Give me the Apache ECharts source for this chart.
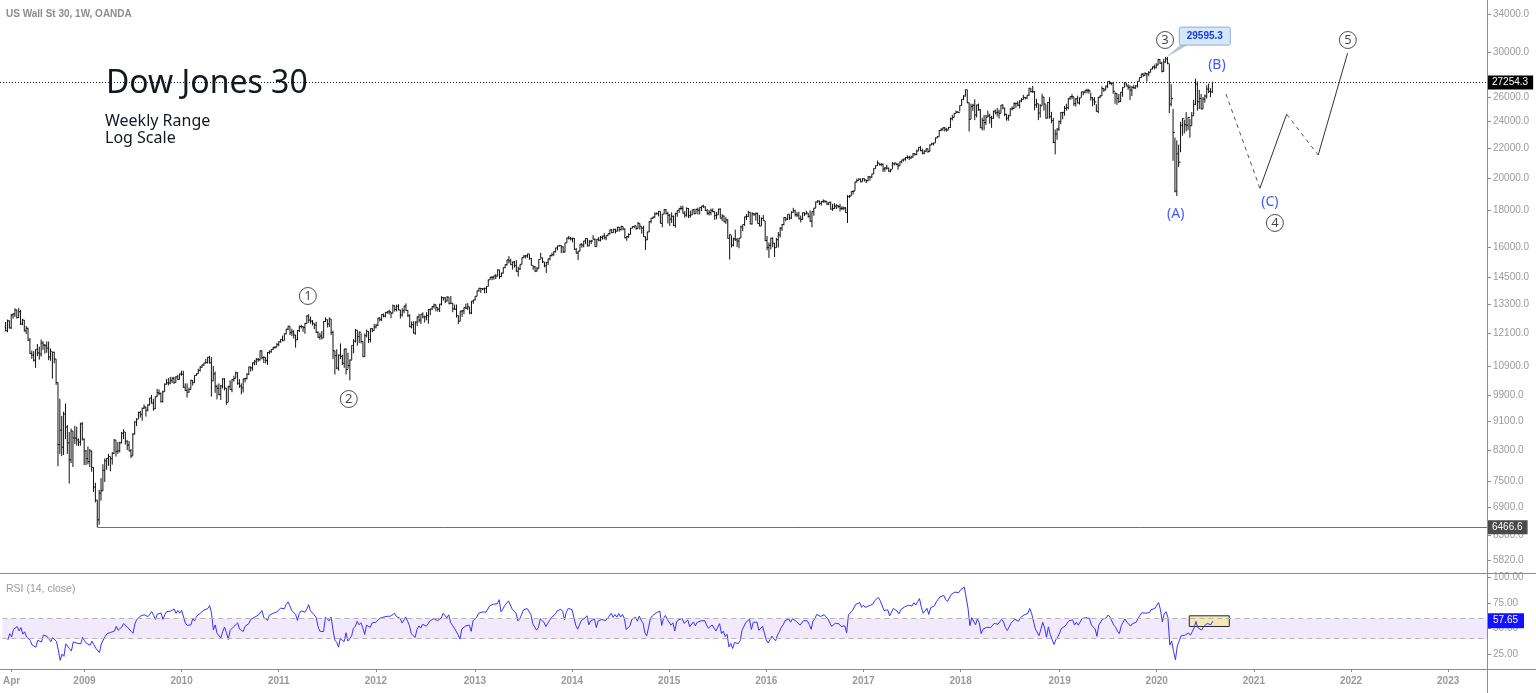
<!DOCTYPE html>
<html><head><meta charset="utf-8">
<script src="https://cdn.jsdelivr.net/npm/echarts@6/dist/echarts.min.js"></script>
<style>html,body{margin:0;padding:0;background:#fff}#c{width:1536px;height:693px}</style>
</head><body><div id="c"></div><script>
// ---------------- DATA ----------------
const startWeek = '2008-03-24'; // Monday of the first weekly bar shown
// weekly closes before the first visible bar (Oct 2007 - Mar 2008), used only to warm up RSI(14)
const warmupCloses = [14066,14093,13522,13806,13595,13043,13176,12981,13372,13625,13339,13450,13366,12800,12606,12099,12207,12743,12182,12348,12381,12266,11894,11951,12361];
// weekly bars: [high, low, close]
const weekly2008 = [[12560,12180,12216],[12660,12150,12609],[12630,12300,12325],[12880,12280,12849],[12920,12700,12891],[13130,12770,13058],[13070,12700,12745],[13140,12730,12986],[13060,12440,12480],[12690,12430,12638],[12640,12180,12209],[12400,12080,12307],[12330,11820,11843],[11930,11330,11346],[11450,11150,11288],[11430,11050,11100],[11500,10830,11496],[11700,11250,11370],[11600,11120,11326],[11870,11230,11734],[11800,11480,11659],[11700,11340,11628],[11800,11370,11543],[11790,11100,11220],[11530,11080,11421],[11400,10460,11388],[11410,10990,11143],[11140,10250,10325],[10330,7880,8451],[9800,8200,8852],[9270,8140,8378],[9400,8170,9325],[9650,8600,8943],[9000,8200,8497],[8800,7450,8046],[8900,7960,8829],[8830,7860,8635],[8980,8470,8629],[8950,8420,8579],[8620,8410,8515],[9070,8420,9034]];
const weekly2009 = [[9090,8560,8599],[8620,7910,8281],[8300,7910,8077],[8400,7930,8000],[8330,7860,8280],[8280,7740,7850],[7850,7250,7365],[7470,7010,7062],[7060,6470,6627],[7300,6520,7224],[7580,7050,7278],[7930,7270,7776],[8080,7490,8018],[8090,7790,8083],[8200,7890,8131],[8130,7750,8076],[8250,7920,8212],[8600,8200,8575],[8570,8130,8268],[8520,8200,8277],[8530,8240,8500],[8800,8480,8764],[8880,8600,8799],[8800,8450,8539],[8570,8300,8438],[8550,8270,8280],[8330,8090,8146],[8770,8150,8743],[9110,8730,9093],[9200,8970,9171],[9400,9180,9370],[9420,9220,9321],[9520,9130,9505],[9620,9480,9544],[9550,9250,9441],[9630,9410,9605],[9830,9590,9820],[9920,9650,9665],[9800,9430,9487],[9880,9480,9864],[10120,9860,9995],[10100,9910,9972],[10000,9680,9712],[10060,9680,10023],[10300,10020,10270],[10440,10260,10318],[10480,10230,10309],[10520,10270,10388],[10510,10310,10471],[10520,10280,10329],[10540,10320,10520],[10590,10420,10428]];
const weekly2010 = [[10630,10430,10618],[10730,10560,10610],[10730,10150,10173],[10300,10050,10067],[10300,9840,10012],[10160,9990,10099],[10420,10100,10402],[10410,10230,10325],[10570,10320,10566],[10640,10550,10625],[10800,10620,10742],[10900,10700,10851],[10950,10830,10927],[11010,10900,10998],[11150,10980,11019],[11220,10980,11204],[11260,10980,11009],[11210,9870,10380],[10900,10380,10620],[10700,9990,10193],[10260,9780,10137],[10300,9910,9932],[10250,9760,10212],[10470,10130,10450],[10470,10070,10144],[10150,9610,9686],[10220,9700,10198],[10400,10090,10098],[10440,10010,10424],[10560,10360,10466],[10700,10470,10654],[10680,10250,10303],[10440,10150,10213],[10300,9940,10150],[10460,10000,10448],[10490,10330,10462],[10640,10430,10607],[10870,10580,10860],[10880,10700,10829],[11020,10730,11006],[11100,10920,11063],[11180,10930,11133],[11180,11040,11118],[11450,11080,11444],[11450,11130,11193],[11240,11000,11204],[11200,10990,11092],[11400,10930,11382],[11460,11320,11410],[11500,11370,11492],[11590,11470,11573],[11610,11520,11578]];
const weekly2011 = [[11740,11580,11675],[11800,11620,11787],[11880,11740,11872],[12020,11800,11824],[12100,11830,12092],[12280,12070,12273],[12400,12230,12391],[12390,12040,12130],[12290,12000,12170],[12230,11900,12044],[12050,11560,11859],[12240,11850,12221],[12420,12160,12377],[12450,12300,12380],[12390,12170,12342],[12520,12090,12505],[12830,12480,12811],[12880,12530,12638],[12780,12490,12596],[12640,12420,12512],[12510,12270,12441],[12570,12120,12151],[12190,11930,11952],[12130,11860,12004],[12200,11870,11934],[12600,11940,12582],[12750,12560,12657],[12660,12340,12479],[12750,12350,12681],[12680,12040,12143],[12210,11140,11445],[11450,10600,11269],[11500,10780,10818],[11310,10730,11285],[11720,11140,11240],[11300,10930,10992],[11520,10830,11509],[11530,10600,10771],[11370,10800,10913],[11130,10400,11103],[11650,11100,11644],[11880,11350,11809],[12280,11750,12231],[12230,11640,11983],[12180,11730,12153],[12110,11720,11796],[11800,11210,11231],[12100,11230,12019],[12260,11950,12184],[12190,11740,11866],[12300,11760,12294],[12320,12150,12218]];
const weekly2012 = [[12480,12220,12360],[12490,12300,12422],[12730,12400,12720],[12760,12580,12660],[12880,12600,12862],[12910,12750,12801],[12960,12750,12950],[13010,12900,12983],[13060,12870,12978],[12980,12720,12922],[13290,12920,13233],[13250,12990,13081],[13290,13000,13212],[13300,13040,13060],[13060,12700,12850],[13130,12780,13029],[13240,12920,13228],[13340,13020,13038],[13050,12760,12821],[12880,12350,12369],[12580,12300,12454],[12590,12100,12119],[12590,12050,12554],[12790,12400,12767],[12900,12540,12640],[12890,12480,12880],[12960,12710,12772],[12820,12540,12777],[12960,12630,12822],[13100,12490,13075],[13110,12840,13096],[13220,13060,13207],[13330,13120,13275],[13290,13000,13157],[13170,12990,13090],[13320,12970,13306],[13650,13250,13593],[13600,13460,13579],[13620,13350,13437],[13660,13420,13610],[13600,13300,13328],[13660,13330,13343],[13360,12960,13107],[13290,13060,13093],[13290,12740,12815],[12830,12480,12588],[13020,12590,13010],[13050,12770,13025],[13170,12880,13155],[13330,13100,13135],[13350,13060,13190],[13190,12880,12938],[13440,12880,13435]];
const weekly2013 = [[13500,13320,13488],[13660,13470,13650],[13900,13650,13896],[14020,13850,14010],[14010,13800,13993],[14020,13920,13982],[14040,13780,14001],[14100,13790,14090],[14410,14090,14397],[14540,14400,14515],[14560,14380,14512],[14590,14400,14579],[14670,14430,14565],[14890,14560,14865],[14870,14440,14548],[14730,14530,14712],[14990,14690,14974],[15130,14950,15118],[15360,15070,15354],[15540,15180,15303],[15410,15100,15116],[15270,14880,15248],[15300,14980,15070],[15340,14760,14800],[15020,14550,14910],[15140,14860,15136],[15480,15140,15464],[15590,15440,15544],[15600,15420,15559],[15660,15460,15658],[15640,15360,15425],[15450,15070,15082],[15070,14870,15010],[15050,14760,14810],[15010,14780,14922],[15390,14930,15376],[15710,15420,15452],[15460,15200,15258],[15250,14990,15073],[15250,14720,15237],[15420,15100,15400],[15600,15330,15570],[15710,15520,15615],[15800,15560,15762],[15970,15730,15962],[16070,15840,16065],[16100,16030,16086],[16090,15700,16020],[16040,15700,15755],[16230,15730,16221],[16500,16220,16479],[16590,16400,16469]];
const weekly2014 = [[16530,16350,16437],[16500,16250,16459],[16480,15860,15879],[15960,15660,15699],[15800,15340,15794],[16160,15790,16154],[16200,15970,16103],[16330,15990,16321],[16460,16150,16452],[16460,16030,16065],[16370,16050,16302],[16380,16160,16323],[16630,16400,16412],[16460,16020,16027],[16430,16040,16408],[16530,16300,16361],[16590,16300,16512],[16600,16390,16583],[16740,16400,16491],[16630,16360,16606],[16720,16580,16717],[16930,16660,16924],[16970,16730,16776],[16980,16760,16947],[16980,16720,16851],[17080,16830,17068],[17070,16820,16944],[17150,16880,17100],[17110,16900,16961],[17000,16460,16493],[16590,16330,16553],[16730,16480,16663],[17030,16670,17001],[17120,17000,17098],[17140,17010,17138],[17140,16930,16988],[17350,16970,17280],[17280,16940,17113],[17100,16710,17010],[17150,16540,16544],[16570,15860,16380],[16820,16370,16805],[17400,16800,17391],[17580,17280,17573],[17650,17520,17635],[17900,17590,17810],[17900,17780,17828],[17990,17670,17958],[17960,17260,17280],[17810,17060,17805],[18100,17800,18053],[18100,17780,17833]];
const weekly2015 = [[17940,17270,17737],[17800,17140,17512],[17900,17300,17673],[17720,17120,17165],[17890,17040,17825],[18020,17650,18019],[18150,17870,18140],[18290,18030,18133],[18290,17840,17857],[17980,17600,17749],[18200,17650,18128],[18150,17580,17713],[18000,17600,17763],[18060,17740,18058],[18110,17800,17826],[18110,17820,18080],[18180,17780,18024],[18200,17780,18191],[18280,17970,18272],[18350,18170,18232],[18240,17980,18011],[18100,17760,17849],[18040,17720,17899],[18120,17740,18016],[18130,17900,17947],[17960,17470,17730],[17930,17510,17760],[18120,17770,18086],[18140,17560,17568],[17800,17400,17690],[17720,17330,17373],[17630,17250,17477],[17510,16450,16460],[16680,15370,16643],[16620,15980,16102],[16500,16040,16433],[16930,16320,16385],[16480,16000,16315],[16480,15940,16472],[17150,16480,17084],[17220,16850,17216],[17660,17140,17647],[17800,17470,17664],[17980,17650,17910],[17910,17230,17245],[17920,17210,17824],[17860,17700,17799],[17900,17430,17848],[17880,17260,17265],[17750,17110,17129],[17610,17140,17552],[17750,17420,17425]];
const weekly2016 = [[17410,16310,16347],[16590,15840,15988],[16240,15450,16094],[16490,15880,16466],[16510,15990,16205],[16210,15500,15974],[16480,15970,16392],[16800,15980,16640],[17070,16510,17007],[17240,16860,17213],[17630,17170,17602],[17630,17400,17516],[17800,17460,17793],[17790,17480,17577],[17970,17530,17898],[18170,17880,18004],[18050,17670,17774],[17930,17630,17741],[17940,17510,17535],[17720,17330,17501],[17900,17480,17873],[17900,17690,17807],[18000,17790,17865],[17870,17600,17675],[18020,17360,17401],[17960,17060,17949],[18170,17710,18147],[18540,18140,18517],[18620,18470,18571],[18600,18330,18432],[18560,18300,18544],[18670,18460,18577],[18600,18460,18553],[18560,18340,18395],[18510,18320,18492],[18540,18080,18086],[18400,17990,18124],[18450,18100,18262],[18390,18100,18308],[18320,18140,18240],[18400,17960,18138],[18260,18030,18146],[18240,18030,18161],[18200,17880,17888],[18930,17300,18848],[18940,18750,18868],[19160,18870,19153],[19230,18960,19171],[19760,19200,19757],[19970,19720,19843],[19990,19850,19934],[19980,19720,19763]];
const weekly2017 = [[19990,19780,19964],[19980,19780,19886],[19900,19680,19827],[20130,19800,20094],[20090,19830,20071],[20280,20010,20269],[20640,20270,20624],[20840,20620,20822],[21170,20810,21005],[21000,20830,20903],[21000,20780,20915],[20960,20410,20596],[20740,20410,20663],[20890,20560,20656],[20690,20410,20453],[20610,20380,20548],[21070,20600,20941],[21020,20840,21007],[21000,20850,20897],[21000,20550,20805],[21110,20800,21080],[21230,20990,21206],[21300,21100,21272],[21400,21160,21384],[21530,21280,21395],[21500,21200,21350],[21500,21290,21414],[21690,21370,21638],[21680,21510,21580],[21930,21550,21830],[22100,21840,22092],[22180,21820,21858],[22000,21600,21675],[21900,21600,21814],[22010,21750,21988],[21990,21700,21798],[22290,21800,22268],[22420,22250,22350],[22420,22230,22405],[22800,22420,22773],[22910,22760,22871],[23370,22880,23329],[23490,23270,23434],[23560,23300,23539],[23600,23250,23422],[23530,23240,23358],[23600,23390,23558],[24330,23520,24231],[24540,24100,24329],[24670,24340,24651],[24880,24650,24754],[24850,24710,24719]];
const weekly2018 = [[25300,24810,25295],[25810,25290,25803],[26150,25730,26072],[26620,26040,26617],[26610,25490,25521],[25530,23250,24191],[25440,24210,25219],[25440,24860,25310],[25800,24120,24538],[25350,24340,25336],[25450,24860,24947],[25000,23510,23533],[24320,23340,24103],[24540,23340,23933],[24530,23750,24360],[24860,24360,24463],[24640,23850,24311],[24460,23530,24263],[24870,24230,24831],[24960,24580,24715],[25090,24400,24753],[24960,24250,24635],[25330,24670,25317],[25400,24980,25090],[25100,24430,24581],[24620,24080,24271],[24560,24080,24456],[25050,24460,25019],[25220,24900,25058],[25550,25010,25451],[25520,25110,25463],[25650,25230,25313],[25720,25050,25669],[25900,25560,25790],[26170,25780,25965],[26000,25800,25917],[26160,25850,26155],[26770,26070,26743],[26750,26380,26458],[26950,26340,26447],[26500,24900,25340],[25840,25110,25444],[25440,24120,24688],[25400,24320,25270],[26280,25280,25989],[26000,24880,25413],[25370,24250,24285],[25580,24270,25538],[25980,24240,24389],[24780,23880,24100],[24300,22400,22445],[23400,21600,23062]];
const weekly2019 = [[23500,22640,23433],[24100,23300,23996],[24750,23810,24706],[24780,24190,24737],[25250,24470,25064],[25440,24880,25106],[25890,24990,25883],[26050,25760,26031],[26240,25800,26026],[26000,25250,25450],[25910,25200,25849],[26110,25460,25502],[25950,25370,25929],[26430,25950,26425],[26480,26140,26412],[26600,26300,26560],[26700,26310,26543],[26690,26290,26505],[26370,25700,25942],[26000,25220,25764],[25980,25330,25586],[25400,24800,24815],[26000,24680,25984],[26150,25900,26090],[26910,26080,26719],[26770,26430,26600],[26970,26560,26922],[27340,26760,27332],[27400,27090,27154],[27250,27000,27192],[27220,26270,26485],[26400,25440,26287],[26320,25340,25886],[26250,25500,25629],[26420,25570,26403],[26830,26020,26797],[27260,26820,27220],[27220,26900,26935],[27090,26600,26820],[27000,25740,26573],[26930,26080,26817],[27050,26700,26770],[27000,26690,26958],[27350,26810,27347],[27690,27360,27681],[28030,27640,28005],[28090,27750,27876],[28170,27850,28051],[28070,27320,28015],[28270,27800,28135],[28460,28150,28455],[28700,28430,28645],[28870,28420,28634]];
const weekly2020 = [[29010,28500,28824],[29380,28800,29348],[29370,28930,28990],[29130,28150,28256],[29410,28190,29103],[29595,29050,29398],[29580,28900,28992],[28950,24680,25409],[27100,25220,25865],[25020,21150,23186],[22800,19100,19174],[22600,18880,21637],[22290,20730,21053],[24000,21750,23719],[24280,22940,24242],[24150,23100,23775],[24760,23250,23724],[24380,23360,24331],[24220,22790,23685],[24760,23690,24465],[25760,24470,25383],[27580,25340,27111],[27340,24870,25605],[26610,25000,25871],[26250,24980,25016],[26000,25000,25827],[26210,25530,26075],[27000,25870,26672],[27150,26330,26470],[26750,25990,26428],[27300,26330,27254]];

const priceTicks = [34000,30000,26000,24000,22000,20000,18000,16000,14500,13300,12100,10900,9900,9100,8300,7500,6900,6300,5820];
const rsiTicks = [100,75,50,25];
const xTickDates = ['2008-04-07','2009-01-05','2010-01-04','2011-01-03','2012-01-02','2013-01-07','2014-01-06','2015-01-05','2016-01-04','2017-01-02','2018-01-01','2019-01-07','2020-01-06','2021-01-04','2022-01-03','2023-01-02'];
const xTickLabels = ['Apr','2009','2010','2011','2012','2013','2014','2015','2016','2017','2018','2019','2020','2021','2022','2023'];

const lastPrice = 27254.3;
const swingLow = { date: '2009-03-02', price: 6466.6 };
const peakLabel = { date: '2020-02-10', price: 29595.3 };
const rsiLastLabel = 57.65;
const rsiBand = [40, 60];
const rsiBox = { from: '2020-05-07', to: '2020-10-04', top: 62.5, bottom: 52 };
const waveNames = ['1','2','3','4','5'];
const waveDates = ['2011-04-29','2011-09-29','2020-02-08','2021-03-25','2021-12-23'];
const wavePrices = [13662, 9792, 31259, 17300, 31259];
const letterNames = ['(A)','(B)','(C)'];
const letterDates = ['2020-03-19','2020-08-20','2021-03-06'];
const letterPrices = [17808, 28832, 18516];
const projDates = ['2020-09-23','2021-01-28','2021-05-08','2021-09-03','2021-12-22'];
const projPrices = [26250, 19350, 24590, 21550, 29950];
const projDashed = [true, false, true, false];

// ---------------- BUILD ----------------
const DAY = 86400000;
const t0 = Date.parse(startWeek + 'T00:00:00Z');
const weekIndex = d => (Date.parse(d + 'T00:00:00Z') - t0) / (7 * DAY);

const bars = [].concat(weekly2008, weekly2009, weekly2010, weekly2011, weekly2012, weekly2013, weekly2014, weekly2015, weekly2016, weekly2017, weekly2018, weekly2019, weekly2020);
const closes = bars.map(b => b[2]);
const allCloses = warmupCloses.concat(closes);

function computeRSI(src, n) {
  const out = new Array(src.length).fill(null);
  let g = 0, l = 0;
  for (let i = 1; i <= n; i++) { const d = src[i] - src[i - 1]; if (d > 0) g += d; else l -= d; }
  let ag = g / n, al = l / n;
  out[n] = al === 0 ? 100 : 100 - 100 / (1 + ag / al);
  for (let i = n + 1; i < src.length; i++) {
    const d = src[i] - src[i - 1];
    ag = (ag * (n - 1) + Math.max(d, 0)) / n;
    al = (al * (n - 1) + Math.max(-d, 0)) / n;
    out[i] = al === 0 ? 100 : 100 - 100 / (1 + ag / al);
  }
  return out;
}
const rsiAll = computeRSI(allCloses, 14);
const rsiData = closes.map((c, i) => [i, rsiAll[i + warmupCloses.length]]);
const ohlc = bars.map((b, i) => [i, i === 0 ? warmupCloses[warmupCloses.length - 1] : bars[i - 1][2], b[0], b[1], b[2]]);

const xMin = -2.99, xMax = 791.8;
const xTickIdx = xTickDates.map(d => Math.round(weekIndex(d)));
const xLabelOf = v => { const k = xTickIdx.indexOf(Math.round(v)); return k >= 0 ? xTickLabels[k] : ''; };

const axisGray = '#8c8c8c';
const labelGray = '#9a9a9a';
const axisFont = 'Liberation Sans';

const projSeries = projDashed.map((dashed, k) => ({
  type: 'line', xAxisIndex: 0, yAxisIndex: 0, symbol: 'none', silent: true,
  data: [[weekIndex(projDates[k]), projPrices[k]], [weekIndex(projDates[k + 1]), projPrices[k + 1]]],
  lineStyle: { color: dashed ? '#555' : '#333', width: 1, type: dashed ? [4, 4] : 'solid' }
}));

const option = {
  animation: false,
  backgroundColor: '#ffffff',
  textStyle: { fontFamily: axisFont },
  grid: [
    { left: 0, top: 0, width: 1487, height: 573 },
    { left: 0, top: 574, width: 1487, height: 95 }
  ],
  xAxis: [
    { type: 'value', gridIndex: 0, min: xMin, max: xMax, show: false, axisLine: { onZero: false } },
    { type: 'value', gridIndex: 1, min: xMin, max: xMax,
      axisLine: { show: false, onZero: false }, splitLine: { show: false },
      axisTick: { show: true, customValues: xTickIdx, length: 3, lineStyle: { color: axisGray } },
      axisLabel: { show: true, customValues: xTickIdx, formatter: v => xLabelOf(v), color: labelGray, fontSize: 10, fontWeight: 'bold', margin: 7 } }
  ],
  yAxis: [
    { type: 'log', gridIndex: 0, position: 'right', min: 5579, max: 35574, logBase: 10,
      axisLine: { show: false, onZero: false }, splitLine: { show: false },
      axisTick: { show: true, customValues: priceTicks, length: 4, lineStyle: { color: axisGray } },
      axisLabel: { show: true, customValues: priceTicks, formatter: v => Number(v).toFixed(1), color: labelGray, fontSize: 10, margin: 6 } },
    { type: 'value', gridIndex: 1, position: 'right', min: 10.3, max: 103.5,
      axisLine: { show: false, onZero: false }, splitLine: { show: false },
      axisTick: { show: true, customValues: rsiTicks, length: 4, lineStyle: { color: axisGray } },
      axisLabel: { show: true, customValues: rsiTicks, formatter: v => Number(v).toFixed(2), color: labelGray, fontSize: 10, margin: 6 } }
  ],
  series: [
    {
      type: 'custom', name: 'US30', xAxisIndex: 0, yAxisIndex: 0, clip: true,
      data: ohlc, encode: { x: 0, y: [2, 3] },
      renderItem: (params, api) => {
        const i = api.value(0);
        const o = api.coord([i, api.value(1)]);
        const h = api.coord([i, api.value(2)]);
        const l = api.coord([i, api.value(3)]);
        const c = api.coord([i, api.value(4)]);
        const x = h[0];
        const st = { stroke: '#111', lineWidth: 1 };
        return { type: 'group', children: [
          { type: 'line', shape: { x1: x, y1: h[1], x2: x, y2: l[1] }, style: st },
          { type: 'line', shape: { x1: x - 1, y1: o[1], x2: x, y2: o[1] }, style: st },
          { type: 'line', shape: { x1: x, y1: c[1], x2: x + 1, y2: c[1] }, style: st }
        ] };
      }
    },
    {
      type: 'line', name: 'levels', xAxisIndex: 0, yAxisIndex: 0, symbol: 'none', silent: true,
      data: [[0, lastPrice]], lineStyle: { opacity: 0 },
      markLine: {
        silent: true, symbol: ['none', 'none'], animation: false,
        data: [
          { yAxis: lastPrice, lineStyle: { type: [1, 2], color: '#131722', width: 1 },
            label: { show: true, position: 'end', distance: 0, formatter: lastPrice.toFixed(1), color: '#fff', backgroundColor: '#000', padding: [2, 5, 2, 5], fontSize: 10 } },
          [ { coord: [weekIndex(swingLow.date), swingLow.price], lineStyle: { type: 'solid', color: '#6f6f6f', width: 1 },
              label: { show: true, position: 'end', distance: 0, formatter: swingLow.price.toFixed(1), color: '#fff', backgroundColor: '#4a4a4a', padding: [2, 5, 2, 5], fontSize: 10 } },
            { coord: [xMax, swingLow.price] } ]
        ]
      }
    },
    ...projSeries,
    {
      type: 'scatter', name: 'waves', xAxisIndex: 0, yAxisIndex: 0, silent: true,
      symbol: 'circle', symbolSize: 17,
      itemStyle: { color: '#fff', borderColor: '#222', borderWidth: 1 },
      label: { show: true, position: 'inside', formatter: '{b}', color: '#131722', fontSize: 13, fontFamily: 'Noto Sans' },
      data: waveNames.map((n, k) => ({ name: n, value: [weekIndex(waveDates[k]), wavePrices[k]] }))
    },
    {
      type: 'scatter', name: 'letters', xAxisIndex: 0, yAxisIndex: 0, silent: true,
      symbol: 'circle', symbolSize: 1, itemStyle: { color: 'rgba(0,0,0,0)' },
      label: { show: true, position: 'inside', formatter: '{b}', color: '#0f2cff', fontSize: 14, fontFamily: 'Noto Sans' },
      data: letterNames.map((n, k) => ({ name: n, value: [weekIndex(letterDates[k]), letterPrices[k]] }))
    },
    {
      type: 'line', name: 'RSI', xAxisIndex: 1, yAxisIndex: 1, symbol: 'none', silent: true,
      data: rsiData, lineStyle: { color: '#3434ff', width: 1 },
      markArea: {
        silent: true,
        data: [
          [ { yAxis: rsiBand[0], itemStyle: { color: '#f3e9fd' } }, { yAxis: rsiBand[1] } ],
          [ { coord: [weekIndex(rsiBox.from), rsiBox.top], itemStyle: { color: '#f7e6b6', borderColor: '#2a2a2a', borderWidth: 1 } },
            { coord: [weekIndex(rsiBox.to), rsiBox.bottom] } ]
        ]
      },
      markLine: {
        silent: true, symbol: ['none', 'none'],
        data: [
          { yAxis: rsiBand[1], lineStyle: { type: [5, 4], color: '#b5b5b5', width: 1 }, label: { show: false } },
          { yAxis: rsiBand[0], lineStyle: { type: [5, 4], color: '#b5b5b5', width: 1 }, label: { show: false } },
          { yAxis: rsiLastLabel, lineStyle: { color: 'rgba(0,0,0,0)', width: 1 },
            label: { show: true, position: 'end', distance: 0, formatter: rsiLastLabel.toFixed(2), color: '#fff', backgroundColor: '#1212ff', padding: [3, 6, 2, 6], fontSize: 10 } }
        ]
      }
    }
  ]
};

const chart = echarts.init(document.getElementById('c'), null, { renderer: 'canvas', width: 1536, height: 693 });
chart.setOption(option);

const baseGraphics = [
  { type: 'line', silent: true, z: 10, shape: { x1: 0, y1: 573.5, x2: 1536, y2: 573.5 }, style: { stroke: axisGray, lineWidth: 1 } },
  { type: 'line', silent: true, z: 10, shape: { x1: 0, y1: 669.5, x2: 1536, y2: 669.5 }, style: { stroke: axisGray, lineWidth: 1 } },
  { type: 'line', silent: true, z: 10, shape: { x1: 1487.5, y1: 0, x2: 1487.5, y2: 693 }, style: { stroke: axisGray, lineWidth: 1 } },
  { type: 'text', silent: true, z: 10, style: { x: 6, y: 14.5, text: 'US Wall St 30, 1W, OANDA', font: 'bold 10px "Liberation Sans"', fill: '#8c8c8c', verticalAlign: 'middle' } },
  { type: 'text', silent: true, z: 10, style: { x: 106, y: 84, text: 'Dow Jones 30', font: '32px "Noto Sans"', fill: '#131722', verticalAlign: 'middle' } },
  { type: 'text', silent: true, z: 10, style: { x: 105, y: 121, text: 'Weekly Range', font: '16px "Noto Sans"', fill: '#131722', verticalAlign: 'middle' } },
  { type: 'text', silent: true, z: 10, style: { x: 105, y: 138, text: 'Log Scale', font: '16px "Noto Sans"', fill: '#131722', verticalAlign: 'middle' } },
  { type: 'text', silent: true, z: 10, style: { x: 6, y: 589.5, text: 'RSI (14, close)', font: '10.5px "Liberation Sans"', fill: '#9a9a9a', verticalAlign: 'middle' } }
];

const pk = chart.convertToPixel({ xAxisIndex: 0, yAxisIndex: 0 }, [weekIndex(peakLabel.date) + 0.4, peakLabel.price]);
const bx = pk[0] + 13, by = pk[1] - 29.8, bw = 51, bh = 18;
const calloutGraphics = [
  { type: 'polygon', silent: true, z: 11, shape: { points: [[pk[0] - 1, pk[1] + 1], [bx + 2, by + bh - 1], [bx + 10, by + bh - 1]] }, style: { fill: '#b7c4d2' } },
  { type: 'rect', silent: true, z: 12, shape: { x: bx, y: by, width: bw, height: bh, r: 2 }, style: { fill: '#d3e8fb', stroke: '#93afcc', lineWidth: 1 } },
  { type: 'text', silent: true, z: 13, style: { x: bx + bw / 2, y: by + bh / 2 + 0.5, text: peakLabel.price.toFixed(1), font: 'bold 10px "Liberation Sans"', fill: '#1c3ae8', align: 'center', verticalAlign: 'middle' } }
];
chart.setOption({ graphic: baseGraphics.concat(calloutGraphics) });
</script></body></html>
